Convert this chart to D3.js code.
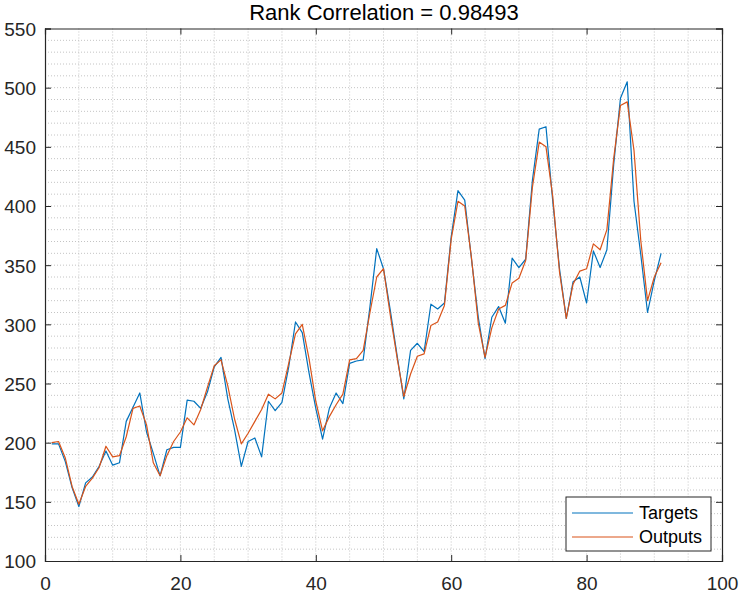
<!DOCTYPE html>
<html>
<head>
<meta charset="utf-8">
<script src="https://cdn.jsdelivr.net/npm/d3@7"></script>
<style>
  html, body { margin: 0; padding: 0; background: #fff; }
  svg { display: block; font-family: Arial, "Liberation Sans", Helvetica, sans-serif; }
</style>
</head>
<body>
<svg id="chart" width="742" height="595"></svg>
<script>
const titleText = "Rank Correlation = 0.98493";
const seriesNames = ["Targets", "Outputs"];
const seriesColors = ["#0072BD", "#D95319"];
const xTicks = [0, 20, 40, 60, 80, 100];
const yTicks = [100, 150, 200, 250, 300, 350, 400, 450, 500, 550];

const targets = [
  199,199,184,162,146,166,
  171,180,193,181,183,218,230,242,209,191,172,194,
  196,196,236,235,229,243,264,272,237,211,180,201,
  204,188,235,227,234,264,302,293,259,229,203,229,
  242,233,267,269,270,315,364,347,312,274,237,278,
  284,277,317,313,318,374,413,405,355,306,271,306,
  315,301,356,348,355,422,465,467,404,347,305,336,
  340,318,362,348,363,435,491,505,404,359,310,337,
  360
];
const outputs = [
  200,201,187,163,148,163,
  170,179,197,188,189,205,229,231,215,183,172,189,
  201,209,221,215,228,247,265,270,248,220,199,208,
  218,228,241,237,242,267,292,300,271,235,210,222,
  232,241,270,271,278,310,340,347,308,272,239,258,
  273,275,299,302,316,372,404,400,356,301,272,297,
  313,316,335,339,354,416,454,450,408,344,305,334,
  345,347,368,363,380,440,485,488,447,371,320,340,
  352
];

const svg = d3.select("#chart");
const L = 45, R = 722, T = 28.5, B = 561;
const x = d3.scaleLinear().domain([0, 100]).range([L, R]);
const y = d3.scaleLinear().domain([100, 550]).range([B, T]);

// grid (major + minor, dotted)
const grid = svg.append("g");
grid.selectAll("line.vx").data(d3.range(5, 100, 5)).enter().append("line")
  .attr("x1", d => x(d)).attr("x2", d => x(d)).attr("y1", T).attr("y2", B)
  .attr("stroke", "#c4c4c4").attr("stroke-width", 1).attr("stroke-dasharray", "1,2");
grid.selectAll("line.hy").data(d3.range(110, 550, 10)).enter().append("line")
  .attr("y1", d => y(d)).attr("y2", d => y(d)).attr("x1", L).attr("x2", R)
  .attr("stroke", "#c4c4c4").attr("stroke-width", 1).attr("stroke-dasharray", "1,2");

// lines
const line = d3.line().x((d, i) => x(i + 1)).y(d => y(d));
[targets, outputs].forEach((s, k) => {
  svg.append("path").datum(s).attr("d", line)
    .attr("fill", "none").attr("stroke", seriesColors[k]).attr("stroke-width", 1.2)
    .attr("stroke-linejoin", "round");
});

// axes (ticks inside)
const axisColor = "#262626";
const xAxis = svg.append("g").attr("transform", `translate(0,${B})`)
  .call(d3.axisBottom(x).tickValues(xTicks).tickSize(-6).tickPadding(16).tickFormat(d3.format("d")));
const xAxisTop = svg.append("g").attr("transform", `translate(0,${T})`)
  .call(d3.axisTop(x).tickValues(xTicks).tickSize(-6).tickFormat(""));
const yAxis = svg.append("g").attr("transform", `translate(${L},0)`)
  .call(d3.axisLeft(y).tickValues(yTicks).tickSize(-6).tickPadding(9).tickFormat(d3.format("d")));
const yAxisR = svg.append("g").attr("transform", `translate(${R},0)`)
  .call(d3.axisRight(y).tickValues(yTicks).tickSize(-6).tickFormat(""));
[xAxis, xAxisTop, yAxis, yAxisR].forEach(g => {
  g.select(".domain").attr("stroke", axisColor).attr("stroke-width", 1.2);
  g.selectAll(".tick line").attr("stroke", axisColor).attr("stroke-width", 1);
  g.selectAll(".tick text").attr("fill", axisColor).attr("font-size", 19)
    .attr("font-family", "Arial, 'Liberation Sans', sans-serif");
});
xAxis.selectAll(".tick text").attr("dy", "0.71em");
yAxis.selectAll(".tick text").attr("dy", "0.36em");

// title
svg.append("text").attr("x", (L + R) / 2 + 0.5).attr("y", 20)
  .attr("text-anchor", "middle").attr("font-size", 22).attr("fill", "#000")
  .text(titleText);

// legend
const lg = svg.append("g");
lg.append("rect").attr("x", 566).attr("y", 497).attr("width", 145).attr("height", 54)
  .attr("fill", "#fff").attr("stroke", axisColor).attr("stroke-width", 1);
seriesNames.forEach((n, k) => {
  const yy = 513 + k * 24;
  lg.append("line").attr("x1", 572).attr("x2", 633).attr("y1", yy).attr("y2", yy)
    .attr("stroke", seriesColors[k]).attr("stroke-width", 1.2);
  lg.append("text").attr("x", 639).attr("y", yy).attr("dy", "0.36em")
    .attr("font-size", 18).attr("fill", "#000").text(n);
});
</script>
</body>
</html>
